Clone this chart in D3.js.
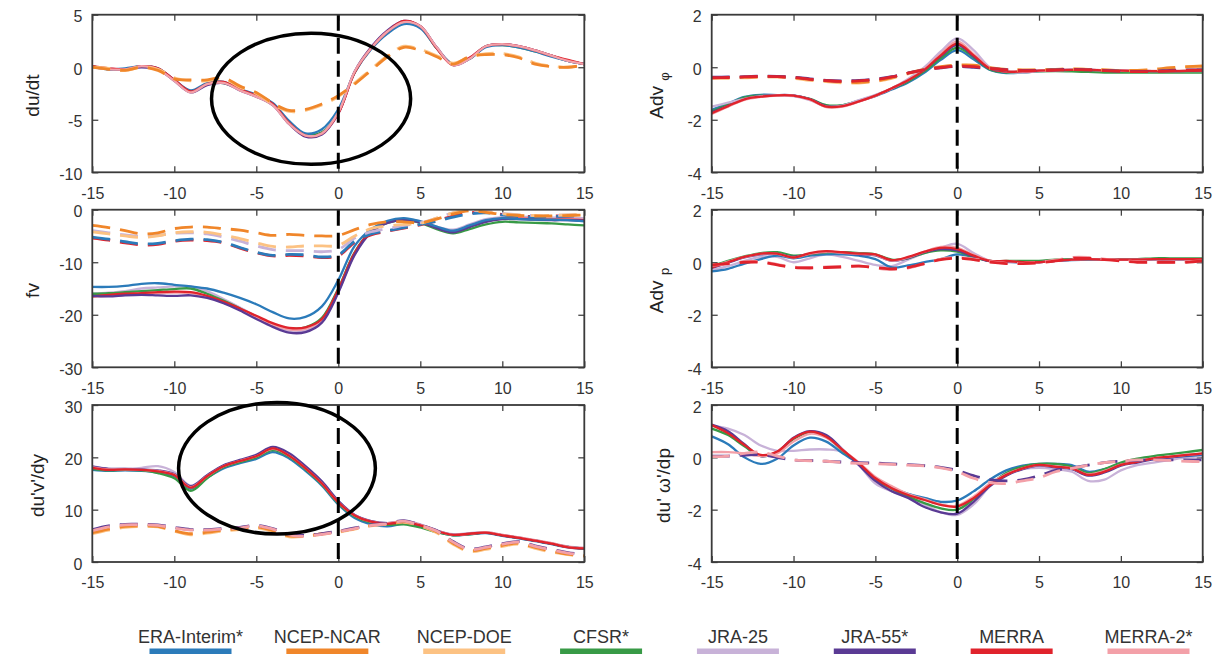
<!DOCTYPE html>
<html>
<head>
<meta charset="utf-8">
<script src="https://cdn.jsdelivr.net/npm/d3@7"></script>
<style>
  html, body { margin: 0; padding: 0; background: #fff; }
  svg { display: block; font-family: "Liberation Sans", Arial, Helvetica, sans-serif; }
</style>
</head>
<body>
<svg id="chart" width="1230" height="654"></svg>
<script>
// Composite anomalies, days relative to the event (day 0)
const days = d3.range(-15, 16);
const xTicks = [-15, -10, -5, 0, 5, 10, 15];

const reanalysisNames = ["ERA-Interim*", "NCEP-NCAR", "NCEP-DOE", "CFSR*", "JRA-25", "JRA-55*", "MERRA", "MERRA-2*"];
const reanalysisColors = ["#2b7bba", "#f0862a", "#fcc283", "#389a46", "#c8b2d8", "#5a3a94", "#e0232c", "#f3a0a8"];

// ---- du/dt ----
const dudtERA    = [0.0, -0.2, -0.1, 0.1, -0.1, -1.2, -2.2, -1.5, -1.4, -2.1, -2.6, -3.4, -5.1, -6.3, -5.9, -4.0, -0.5, 1.7, 3.2, 4.1, 3.7, 1.8, 0.3, 0.8, 1.9, 2.1, 1.9, 1.5, 1.0, 0.6, 0.3];
const dudtCFSR   = [0.1, -0.2, -0.2, 0.1, -0.2, -1.2, -2.3, -1.6, -1.5, -2.1, -2.7, -3.5, -5.3, -6.4, -6.2, -4.3, -0.5, 1.8, 3.3, 4.2, 3.8, 1.8, 0.3, 0.8, 2.0, 2.1, 1.9, 1.5, 1.1, 0.6, 0.3];
const dudtJRA25  = [0.0, -0.1, -0.2, 0.1, -0.1, -1.2, -2.3, -1.6, -1.4, -2.1, -2.7, -3.5, -5.3, -6.5, -6.3, -4.3, -0.4, 1.9, 3.4, 4.3, 3.9, 1.9, 0.3, 0.9, 2.0, 2.2, 2.0, 1.6, 1.1, 0.6, 0.3];
const dudtJRA55  = [0.1, -0.2, -0.2, 0.0, -0.2, -1.3, -2.4, -1.7, -1.5, -2.2, -2.8, -3.6, -5.4, -6.6, -6.4, -4.4, -0.4, 1.9, 3.5, 4.4, 3.9, 1.9, 0.2, 0.8, 2.0, 2.2, 2.0, 1.6, 1.1, 0.6, 0.3];
const dudtMERRA  = [0.1, -0.1, -0.2, 0.1, -0.1, -1.2, -2.3, -1.6, -1.4, -2.1, -2.7, -3.5, -5.3, -6.5, -6.3, -4.4, -0.5, 1.8, 3.4, 4.4, 3.9, 1.8, 0.2, 0.9, 2.0, 2.2, 2.0, 1.6, 1.1, 0.7, 0.3];
const dudtMERRA2 = [0.0, -0.2, -0.2, 0.1, -0.2, -1.3, -2.4, -1.6, -1.5, -2.2, -2.8, -3.6, -5.4, -6.5, -6.3, -4.3, -0.4, 1.8, 3.4, 4.3, 3.9, 1.9, 0.2, 0.8, 2.0, 2.2, 2.0, 1.6, 1.1, 0.6, 0.3];
const dudtNCAR   = [0.0, -0.2, -0.3, 0.0, -0.3, -1.1, -1.2, -1.2, -1.0, -1.8, -2.4, -3.4, -4.1, -4.0, -3.5, -2.7, -1.6, -0.3, 1.0, 1.9, 1.6, 1.0, 0.3, 1.0, 1.2, 1.2, 0.9, 0.3, 0.05, 0.0, 0.2];
const dudtDOE    = [0.0, -0.1, -0.3, 0.0, -0.2, -1.0, -1.3, -1.3, -1.1, -1.9, -2.5, -3.5, -4.2, -4.1, -3.6, -2.8, -1.5, -0.2, 1.1, 2.0, 1.7, 1.1, 0.4, 1.0, 1.3, 1.3, 1.0, 0.4, 0.1, 0.0, 0.2];

// ---- fv ----
const fvERA    = [-14.7, -14.7, -14.5, -14.1, -14.0, -14.3, -14.6, -15.0, -15.8, -16.8, -18.0, -19.5, -20.7, -20.4, -18.4, -13.4, -6.9, -3.7, -2.1, -1.6, -2.2, -3.2, -4.0, -3.0, -2.0, -1.6, -1.8, -1.9, -1.9, -2.0, -2.2];
const fvCFSR   = [-16.0, -15.9, -15.7, -15.5, -15.3, -15.1, -15.0, -16.0, -17.3, -18.8, -20.5, -21.9, -22.6, -22.4, -20.6, -15.0, -8.1, -4.1, -2.5, -2.0, -2.5, -3.7, -4.5, -3.7, -2.8, -2.3, -2.4, -2.5, -2.6, -2.8, -3.0];
const fvJRA25  = [-16.0, -15.8, -15.5, -15.0, -14.8, -14.6, -14.6, -15.5, -17.0, -18.6, -20.3, -21.9, -23.0, -23.0, -21.3, -15.6, -8.4, -4.2, -2.4, -1.8, -2.2, -3.2, -3.8, -2.8, -1.8, -1.4, -1.3, -1.4, -1.5, -1.5, -1.6];
const fvJRA55  = [-16.4, -16.5, -16.3, -16.2, -16.3, -16.4, -16.3, -16.8, -17.8, -19.2, -20.8, -22.3, -23.4, -23.3, -21.5, -15.8, -8.6, -4.3, -2.5, -2.0, -2.4, -3.5, -4.3, -3.3, -2.3, -1.8, -1.8, -1.9, -2.0, -2.0, -2.1];
const fvMERRA  = [-16.5, -16.2, -16.0, -15.9, -15.7, -15.6, -15.7, -16.4, -17.5, -18.8, -20.2, -21.6, -22.5, -22.4, -20.8, -15.2, -8.2, -4.1, -2.4, -1.9, -2.3, -3.4, -4.2, -3.2, -2.2, -1.7, -1.7, -1.8, -1.9, -1.9, -2.0];
const fvMERRA2 = [-16.6, -16.4, -16.2, -16.0, -15.9, -15.8, -15.9, -16.6, -17.7, -19.0, -20.5, -21.9, -22.8, -22.7, -21.0, -15.4, -8.4, -4.2, -2.4, -1.9, -2.3, -3.4, -4.2, -3.1, -2.1, -1.6, -1.6, -1.7, -1.8, -1.8, -1.9];
const fvNCAR   = [-3.0, -3.4, -4.0, -4.6, -4.4, -3.6, -3.3, -3.3, -3.6, -3.9, -4.4, -4.9, -4.7, -4.9, -5.0, -4.9, -3.8, -2.8, -2.3, -2.3, -2.5, -1.8, -0.8, -0.2, -0.5, -0.9, -1.1, -1.2, -1.2, -1.1, -1.0];
const fvDOE    = [-4.2, -4.6, -5.0, -5.3, -5.0, -4.4, -4.2, -4.3, -4.8, -5.5, -6.3, -7.0, -7.1, -6.9, -6.9, -6.8, -5.0, -3.6, -3.1, -2.8, -2.6, -1.6, -0.6, 0.0, -0.4, -0.8, -1.0, -1.1, -1.1, -1.0, -1.0];
const fvJRA25Dash = [-4.0, -4.4, -4.8, -5.1, -4.9, -4.5, -4.4, -4.6, -5.2, -6.0, -6.9, -7.6, -7.8, -7.8, -8.0, -7.6, -5.4, -4.2, -3.6, -3.0, -2.5, -1.6, -0.6, -0.2, -0.3, -0.7, -1.0, -1.1, -1.1, -1.0, -1.0];
const fvERADash   = [-5.2, -5.6, -6.1, -6.5, -6.4, -5.9, -5.6, -5.7, -6.2, -7.2, -8.1, -8.7, -8.5, -8.6, -9.0, -8.6, -6.0, -4.6, -4.0, -3.4, -2.8, -2.2, -1.4, -0.8, -0.6, -1.0, -1.3, -1.4, -1.3, -1.2, -1.2];
const fvMERRADash = [-5.4, -5.8, -6.3, -6.7, -6.6, -6.0, -5.8, -5.9, -6.3, -7.3, -8.2, -8.8, -8.7, -8.8, -9.1, -8.8, -6.2, -4.8, -4.1, -3.5, -2.9, -2.1, -1.2, -0.6, -0.5, -0.9, -1.2, -1.3, -1.2, -1.2, -1.1];

// ---- du'v'/dy ----
const duvERA    = [17.6, 17.4, 17.5, 17.4, 17.1, 16.4, 14.0, 16.1, 17.9, 18.9, 19.7, 21.0, 19.8, 17.4, 14.6, 11.0, 8.4, 7.2, 6.8, 7.3, 6.8, 5.8, 5.1, 5.3, 5.5, 5.0, 4.5, 4.0, 3.4, 2.8, 2.5];
const duvCFSR   = [17.8, 17.5, 17.6, 17.5, 17.0, 16.0, 13.6, 16.0, 18.1, 19.1, 20.0, 21.4, 20.1, 17.7, 14.8, 11.2, 8.7, 7.5, 7.1, 7.2, 6.6, 5.7, 5.1, 5.3, 5.6, 5.1, 4.6, 4.1, 3.5, 2.9, 2.6];
const duvJRA25  = [18.3, 17.8, 17.8, 18.0, 18.3, 17.2, 14.6, 16.5, 18.3, 19.3, 20.3, 21.8, 20.6, 18.1, 15.2, 11.5, 9.0, 7.8, 7.4, 7.8, 7.2, 6.0, 5.3, 5.5, 5.7, 5.2, 4.7, 4.2, 3.6, 3.0, 2.7];
const duvJRA55  = [18.2, 17.8, 17.8, 17.7, 17.5, 16.8, 14.5, 16.6, 18.5, 19.5, 20.5, 22.0, 20.8, 18.3, 15.4, 11.7, 9.0, 7.8, 7.4, 7.7, 7.1, 6.0, 5.2, 5.4, 5.6, 5.1, 4.6, 4.1, 3.5, 2.9, 2.6];
const duvMERRA  = [18.0, 17.6, 17.7, 17.6, 17.3, 16.6, 14.2, 16.4, 18.3, 19.3, 20.2, 21.7, 20.3, 17.9, 15.0, 11.4, 8.9, 7.7, 7.3, 7.6, 7.0, 5.9, 5.2, 5.4, 5.6, 5.1, 4.6, 4.1, 3.5, 2.8, 2.6];
const duvMERRA2 = [18.1, 17.7, 17.7, 17.6, 17.4, 16.7, 14.3, 16.4, 18.3, 19.3, 20.2, 21.6, 20.3, 17.9, 15.0, 11.4, 8.9, 7.7, 7.4, 7.8, 7.1, 6.0, 5.2, 5.4, 5.7, 5.2, 4.7, 4.2, 3.6, 2.9, 2.7];
const duvNCAR   = [5.6, 6.3, 6.8, 6.9, 6.8, 6.0, 5.4, 5.7, 6.1, 6.4, 6.7, 6.0, 5.0, 5.0, 5.4, 5.8, 6.4, 7.0, 7.3, 7.7, 7.0, 5.8, 3.6, 2.2, 2.6, 3.2, 3.6, 2.8, 2.1, 1.5, 1.2];
const duvDOE    = [5.4, 6.1, 6.6, 6.8, 6.7, 5.9, 5.2, 5.5, 5.9, 6.2, 6.5, 5.8, 4.8, 4.9, 5.3, 5.7, 6.3, 6.9, 7.2, 7.6, 6.9, 5.6, 3.4, 2.0, 2.4, 3.0, 3.4, 2.6, 1.9, 1.4, 1.1];
const duvJRA55Dash  = [6.2, 6.9, 7.2, 7.2, 7.1, 6.6, 6.2, 6.2, 6.4, 6.6, 7.0, 6.4, 5.4, 5.1, 5.4, 5.9, 6.5, 7.1, 7.4, 7.9, 7.1, 6.0, 3.9, 2.5, 2.9, 3.5, 3.9, 3.1, 2.4, 1.8, 1.4];
const duvMERRA2Dash = [6.0, 6.7, 7.1, 7.1, 7.0, 6.5, 6.1, 6.1, 6.3, 6.5, 6.9, 6.3, 5.2, 4.9, 5.3, 5.8, 6.4, 7.0, 7.3, 7.8, 7.0, 5.9, 3.8, 2.4, 2.8, 3.4, 3.8, 3.0, 2.3, 1.7, 1.3];

// ---- Adv phi ----
const advfERA    = [-1.62, -1.38, -1.13, -1.05, -1.06, -1.08, -1.22, -1.47, -1.45, -1.28, -1.1, -0.85, -0.58, -0.2, 0.28, 0.65, 0.3, -0.1, -0.22, -0.2, -0.15, -0.12, -0.1, -0.1, -0.12, -0.14, -0.15, -0.16, -0.16, -0.16, -0.16];
const advfCFSR   = [-1.68, -1.42, -1.15, -1.08, -1.07, -1.09, -1.2, -1.44, -1.44, -1.27, -1.07, -0.82, -0.54, -0.15, 0.35, 0.75, 0.38, -0.08, -0.2, -0.19, -0.16, -0.15, -0.16, -0.18, -0.2, -0.2, -0.2, -0.2, -0.2, -0.2, -0.2];
const advfJRA25  = [-1.5, -1.35, -1.2, -1.1, -1.08, -1.1, -1.25, -1.5, -1.46, -1.25, -1.05, -0.8, -0.45, 0.0, 0.6, 1.1, 0.65, 0.0, -0.18, -0.2, -0.15, -0.12, -0.1, -0.1, -0.12, -0.14, -0.15, -0.15, -0.15, -0.15, -0.15];
const advfJRA55  = [-1.72, -1.47, -1.2, -1.1, -1.06, -1.07, -1.21, -1.48, -1.47, -1.29, -1.08, -0.82, -0.5, -0.08, 0.42, 0.85, 0.42, -0.05, -0.17, -0.16, -0.13, -0.11, -0.1, -0.1, -0.12, -0.13, -0.14, -0.15, -0.15, -0.14, -0.13];
const advfMERRA  = [-1.75, -1.48, -1.22, -1.12, -1.07, -1.08, -1.22, -1.5, -1.48, -1.3, -1.08, -0.8, -0.5, -0.1, 0.45, 0.9, 0.45, -0.05, -0.17, -0.16, -0.13, -0.11, -0.1, -0.1, -0.12, -0.13, -0.14, -0.15, -0.15, -0.14, -0.13];
const advfMERRA2 = [-1.78, -1.5, -1.24, -1.13, -1.08, -1.08, -1.23, -1.52, -1.5, -1.31, -1.09, -0.81, -0.49, -0.06, 0.5, 0.98, 0.5, -0.02, -0.15, -0.15, -0.12, -0.1, -0.09, -0.09, -0.11, -0.12, -0.13, -0.14, -0.14, -0.13, -0.12];
const advfNCAR   = [-0.4, -0.4, -0.38, -0.36, -0.36, -0.4, -0.47, -0.52, -0.56, -0.58, -0.52, -0.4, -0.22, -0.08, 0.02, 0.08, 0.08, -0.02, -0.08, -0.1, -0.1, -0.08, -0.06, -0.08, -0.1, -0.12, -0.12, -0.08, -0.02, 0.02, 0.05];
const advfDOE    = [-0.42, -0.41, -0.4, -0.38, -0.38, -0.42, -0.5, -0.55, -0.6, -0.6, -0.54, -0.42, -0.25, -0.1, 0.0, 0.06, 0.05, -0.04, -0.1, -0.12, -0.1, -0.09, -0.07, -0.08, -0.1, -0.12, -0.12, -0.1, -0.05, 0.0, 0.03];
const advfJRA55Dash = [-0.38, -0.37, -0.36, -0.34, -0.35, -0.38, -0.44, -0.5, -0.52, -0.5, -0.45, -0.36, -0.22, -0.1, -0.02, 0.03, 0.0, -0.05, -0.1, -0.12, -0.12, -0.1, -0.08, -0.1, -0.12, -0.15, -0.16, -0.15, -0.12, -0.1, -0.1];
const advfMERRADash = [-0.4, -0.39, -0.37, -0.35, -0.36, -0.39, -0.46, -0.51, -0.54, -0.52, -0.47, -0.37, -0.22, -0.1, -0.01, 0.04, 0.02, -0.04, -0.1, -0.13, -0.13, -0.11, -0.09, -0.1, -0.13, -0.16, -0.17, -0.16, -0.14, -0.12, -0.11];

// ---- Adv p ----
const advpERA    = [-0.35, -0.25, -0.05, 0.12, 0.25, 0.15, 0.25, 0.3, 0.3, 0.25, 0.12, -0.2, -0.12, 0.0, 0.12, 0.3, 0.2, 0.05, 0.02, 0.0, 0.02, 0.05, 0.08, 0.1, 0.1, 0.12, 0.12, 0.12, 0.12, 0.12, 0.12];
const advpCFSR   = [-0.15, 0.05, 0.22, 0.35, 0.38, 0.25, 0.3, 0.38, 0.38, 0.35, 0.3, 0.1, 0.15, 0.35, 0.45, 0.4, 0.2, 0.05, 0.05, 0.05, 0.05, 0.1, 0.12, 0.12, 0.12, 0.12, 0.12, 0.15, 0.15, 0.15, 0.15];
const advpJRA25  = [-0.3, -0.15, 0.05, 0.2, 0.2, 0.0, 0.15, 0.3, 0.2, 0.05, -0.1, -0.15, 0.1, 0.35, 0.55, 0.7, 0.35, 0.05, 0.0, 0.0, 0.0, 0.05, 0.1, 0.1, 0.1, 0.1, 0.1, 0.1, 0.1, 0.1, 0.1];
const advpJRA55  = [-0.22, -0.02, 0.18, 0.3, 0.32, 0.2, 0.32, 0.4, 0.36, 0.3, 0.26, 0.05, 0.16, 0.38, 0.5, 0.45, 0.22, 0.04, 0.03, 0.0, 0.0, 0.05, 0.1, 0.12, 0.1, 0.1, 0.1, 0.12, 0.12, 0.12, 0.12];
const advpMERRA  = [-0.2, 0.0, 0.2, 0.33, 0.33, 0.18, 0.35, 0.42, 0.38, 0.33, 0.3, 0.08, 0.2, 0.4, 0.55, 0.5, 0.25, 0.05, 0.05, 0.0, 0.0, 0.05, 0.1, 0.12, 0.1, 0.1, 0.1, 0.12, 0.12, 0.12, 0.12];
const advpMERRA2 = [-0.18, 0.02, 0.2, 0.32, 0.32, 0.18, 0.33, 0.4, 0.36, 0.32, 0.28, 0.06, 0.18, 0.4, 0.58, 0.55, 0.28, 0.06, 0.04, 0.0, 0.0, 0.05, 0.1, 0.12, 0.1, 0.1, 0.1, 0.12, 0.12, 0.12, 0.12];
const advpMERRADash  = [-0.1, -0.05, 0.0, 0.0, -0.1, -0.2, -0.22, -0.2, -0.18, -0.15, -0.2, -0.25, -0.2, -0.05, 0.1, 0.15, 0.1, 0.0, -0.05, -0.05, -0.02, 0.05, 0.15, 0.15, 0.1, 0.05, 0.0, 0.0, 0.0, 0.0, 0.05];
const advpMERRA2Dash = [-0.12, -0.06, 0.02, 0.02, -0.08, -0.18, -0.2, -0.18, -0.16, -0.14, -0.22, -0.28, -0.22, -0.06, 0.12, 0.18, 0.12, 0.02, -0.04, -0.04, 0.0, 0.08, 0.18, 0.18, 0.12, 0.06, 0.02, 0.0, 0.0, 0.02, 0.05];

// ---- du'omega'/dp ----
const duwERA    = [0.8, 0.5, 0.0, -0.25, -0.05, 0.45, 0.75, 0.6, 0.15, -0.25, -0.8, -1.15, -1.4, -1.55, -1.7, -1.65, -1.3, -0.85, -0.5, -0.32, -0.25, -0.25, -0.3, -0.55, -0.45, -0.25, -0.15, -0.05, 0.0, 0.05, 0.1];
const duwCFSR   = [1.1, 0.85, 0.42, 0.05, 0.2, 0.7, 0.95, 0.78, 0.25, -0.25, -0.85, -1.2, -1.5, -1.75, -1.95, -2.0, -1.6, -1.05, -0.6, -0.35, -0.25, -0.25, -0.35, -0.6, -0.45, -0.2, -0.05, 0.05, 0.12, 0.2, 0.28];
const duwJRA25  = [1.2, 1.1, 0.85, 0.45, 0.25, 0.25, 0.3, 0.3, 0.2, -0.3, -1.0, -1.3, -1.5, -1.8, -2.1, -2.2, -1.8, -1.1, -0.6, -0.45, -0.4, -0.45, -0.55, -0.9, -0.85, -0.5, -0.3, -0.2, -0.1, 0.0, 0.05];
const duwJRA55  = [1.25, 1.0, 0.5, 0.05, 0.2, 0.75, 1.0, 0.85, 0.3, -0.3, -0.9, -1.3, -1.55, -1.9, -2.1, -2.15, -1.7, -1.1, -0.7, -0.45, -0.32, -0.38, -0.45, -0.7, -0.58, -0.32, -0.2, -0.08, 0.0, 0.07, 0.13];
const duwMERRA  = [1.23, 0.92, 0.47, 0.09, 0.22, 0.73, 0.98, 0.79, 0.28, -0.23, -0.8, -1.18, -1.44, -1.63, -1.82, -1.88, -1.56, -1.06, -0.67, -0.42, -0.29, -0.36, -0.42, -0.67, -0.55, -0.29, -0.17, -0.04, 0.03, 0.09, 0.15];
const duwMERRA2 = [0.2, 0.2, 0.15, 0.05, 0.15, 0.6, 0.9, 0.75, 0.28, -0.2, -0.75, -1.1, -1.4, -1.6, -1.8, -1.85, -1.5, -1.0, -0.65, -0.42, -0.3, -0.35, -0.42, -0.65, -0.52, -0.28, -0.15, -0.04, 0.03, 0.09, 0.14];
const duwJRA55Dash  = [0.05, 0.05, 0.08, 0.1, 0.0, -0.1, -0.12, -0.15, -0.18, -0.2, -0.22, -0.25, -0.28, -0.32, -0.38, -0.5, -0.7, -0.85, -0.9, -0.85, -0.7, -0.5, -0.4, -0.3, -0.2, -0.15, -0.12, -0.1, -0.1, -0.1, -0.1];
const duwMERRA2Dash = [0.03, 0.05, 0.15, 0.2, 0.05, -0.1, -0.13, -0.15, -0.2, -0.23, -0.25, -0.27, -0.3, -0.33, -0.4, -0.55, -0.8, -0.97, -1.0, -0.9, -0.78, -0.55, -0.42, -0.3, -0.2, -0.15, -0.1, -0.1, -0.12, -0.15, -0.17];

// Highlighted regions (centre day, centre value, half-width in days, half-height in units)
const dudtHighlight = [-1.66, -3.0, 6.07, 6.24];
const duvHighlight  = [-3.74, 17.9, 6.0, 12.56];

// ---------------------------------------------------------------------------
const colorOf = name => reanalysisColors[reanalysisNames.indexOf(name)];

const colX = [[92.3, 584.3], [711.7, 1202.7]];
const rowY = [[14.7, 172.3], [209.7, 367.3], [405, 562]];

const panels = [
  { col: 0, row: 0, label: [["du/dt"]], labelX: 39, yDomain: [-10, 5], yTicks: [-10, -5, 0, 5],
    solid: [["CFSR*", dudtCFSR], ["JRA-25", dudtJRA25], ["JRA-55*", dudtJRA55], ["ERA-Interim*", dudtERA], ["MERRA", dudtMERRA], ["MERRA-2*", dudtMERRA2]],
    dashed: [["NCEP-DOE", dudtDOE], ["NCEP-NCAR", dudtNCAR]], highlight: dudtHighlight },
  { col: 0, row: 1, label: [["fv"]], labelX: 39, yDomain: [-30, 0], yTicks: [-30, -20, -10, 0],
    solid: [["JRA-25", fvJRA25], ["CFSR*", fvCFSR], ["MERRA-2*", fvMERRA2], ["MERRA", fvMERRA], ["JRA-55*", fvJRA55], ["ERA-Interim*", fvERA]],
    dashed: [["MERRA", fvMERRADash], ["ERA-Interim*", fvERADash], ["JRA-25", fvJRA25Dash], ["NCEP-DOE", fvDOE], ["NCEP-NCAR", fvNCAR]] },
  { col: 0, row: 2, label: [["du'v'/dy"]], labelX: 44, yDomain: [0, 30], yTicks: [0, 10, 20, 30],
    solid: [["JRA-25", duvJRA25], ["ERA-Interim*", duvERA], ["CFSR*", duvCFSR], ["JRA-55*", duvJRA55], ["MERRA-2*", duvMERRA2], ["MERRA", duvMERRA]],
    dashed: [["NCEP-DOE", duvDOE], ["NCEP-NCAR", duvNCAR], ["JRA-55*", duvJRA55Dash], ["MERRA-2*", duvMERRA2Dash]], highlight: duvHighlight },
  { col: 1, row: 0, label: [["Adv "], ["φ", "sub"]], labelX: 663, yDomain: [-4, 2], yTicks: [-4, -2, 0, 2],
    solid: [["ERA-Interim*", advfERA], ["CFSR*", advfCFSR], ["JRA-55*", advfJRA55], ["JRA-25", advfJRA25], ["MERRA-2*", advfMERRA2], ["MERRA", advfMERRA]],
    dashed: [["NCEP-DOE", advfDOE], ["NCEP-NCAR", advfNCAR], ["JRA-55*", advfJRA55Dash], ["MERRA", advfMERRADash]] },
  { col: 1, row: 1, label: [["Adv "], ["p", "sub"]], labelX: 663, yDomain: [-4, 2], yTicks: [-4, -2, 0, 2],
    solid: [["JRA-25", advpJRA25], ["ERA-Interim*", advpERA], ["CFSR*", advpCFSR], ["JRA-55*", advpJRA55], ["MERRA-2*", advpMERRA2], ["MERRA", advpMERRA]],
    dashed: [["MERRA-2*", advpMERRA2Dash], ["MERRA", advpMERRADash]] },
  { col: 1, row: 2, label: [["du' ω'/dp"]], labelX: 670, yDomain: [-4, 2], yTicks: [-4, -2, 0, 2],
    solid: [["JRA-25", duwJRA25], ["ERA-Interim*", duwERA], ["CFSR*", duwCFSR], ["JRA-55*", duwJRA55], ["MERRA-2*", duwMERRA2], ["MERRA", duwMERRA]],
    dashed: [["JRA-55*", duwJRA55Dash], ["MERRA-2*", duwMERRA2Dash]] }
];

const svg = d3.select("#chart");
const defs = svg.append("defs");
const fmt = d => String(d);

panels.forEach((p, i) => {
  const [x0, x1] = colX[p.col];
  const [y0, y1] = rowY[p.row];
  const x = d3.scaleLinear().domain([-15, 15]).range([x0, x1]);
  const y = d3.scaleLinear().domain(p.yDomain).range([y1, y0]);
  const g = svg.append("g").attr("class", "panel");

  defs.append("clipPath").attr("id", "clip" + i)
    .append("rect").attr("x", x0).attr("y", y0).attr("width", x1 - x0).attr("height", y1 - y0);

  // axes with inward ticks, mirrored on top and right
  const styleAxis = sel => {
    sel.select(".domain").remove();
    sel.selectAll(".tick line").attr("stroke", "#444").attr("stroke-width", 1.3);
    sel.selectAll(".tick text").attr("fill", "#333").attr("font-size", 16)
      .attr("font-family", "'Liberation Sans', Arial, sans-serif");
  };
  g.append("g").attr("transform", `translate(0,${y1})`)
    .call(d3.axisBottom(x).tickValues(xTicks).tickFormat(fmt).tickSize(-6).tickPadding(15))
    .call(styleAxis);
  g.append("g").attr("transform", `translate(0,${y0})`)
    .call(d3.axisTop(x).tickValues(xTicks).tickFormat("").tickSize(-6))
    .call(styleAxis);
  const left = g.append("g").attr("transform", `translate(${x0},0)`)
    .call(d3.axisLeft(y).tickValues(p.yTicks).tickFormat(fmt).tickSize(-6).tickPadding(10))
    .call(styleAxis);
  left.selectAll(".tick text").attr("dy", "0.45em");
  g.append("g").attr("transform", `translate(${x1},0)`)
    .call(d3.axisRight(y).tickValues(p.yTicks).tickFormat("").tickSize(-6))
    .call(styleAxis);

  const line = d3.line()
    .x((d, k) => x(days[k]))
    .y(d => y(d))
    .curve(d3.curveCatmullRom.alpha(0.5));

  const plot = g.append("g").attr("clip-path", `url(#clip${i})`);
  p.solid.forEach(([name, vals]) => {
    plot.append("path").attr("d", line(vals)).attr("fill", "none")
      .attr("stroke", colorOf(name)).attr("stroke-width", 2.3)
      .attr("stroke-linejoin", "round").attr("stroke-linecap", "round");
  });
  p.dashed.forEach(([name, vals]) => {
    plot.append("path").attr("d", line(vals)).attr("fill", "none")
      .attr("stroke", colorOf(name)).attr("stroke-width", 2.8)
      .attr("stroke-dasharray", "18,10");
  });

  // event day marker
  g.append("line").attr("x1", x(0)).attr("x2", x(0)).attr("y1", y0).attr("y2", y1)
    .attr("stroke", "#000").attr("stroke-width", 3).attr("stroke-dasharray", "16,7");

  // frame
  g.append("rect").attr("x", x0).attr("y", y0).attr("width", x1 - x0).attr("height", y1 - y0)
    .attr("fill", "none").attr("stroke", "#3a3a3a").attr("stroke-width", 1.8);

  // y-axis title
  const t = g.append("text")
    .attr("transform", `translate(${p.labelX},${(y0 + y1) / 2 + 2}) rotate(-90)`)
    .attr("text-anchor", "middle").attr("font-size", 19).attr("fill", "#222");
  p.label.forEach(([str, kind]) => {
    const ts = t.append("tspan").text(str);
    if (kind === "sub") ts.attr("dy", 6).attr("font-size", 13);
  });

  if (p.highlight) {
    const [cx, cy, rx, ry] = p.highlight;
    g.append("ellipse")
      .attr("cx", x(cx)).attr("cy", y(cy))
      .attr("rx", x(cx + rx) - x(cx)).attr("ry", y(cy - ry) - y(cy))
      .attr("fill", "none").attr("stroke", "#000").attr("stroke-width", 3.5);
  }
});

// legend
const legend = svg.append("g").attr("class", "legend");
const legendX = d3.scalePoint().domain(reanalysisNames).range([190.5, 1148.5]);
reanalysisNames.forEach((name, k) => {
  const cx = legendX(name);
  legend.append("text").attr("x", cx).attr("y", 643).attr("text-anchor", "middle")
    .attr("font-size", 18).attr("fill", "#333").text(name);
  legend.append("rect").attr("x", cx - 41).attr("y", 648.5).attr("width", 82).attr("height", 12)
    .attr("fill", reanalysisColors[k]);
});
</script>
</body>
</html>
